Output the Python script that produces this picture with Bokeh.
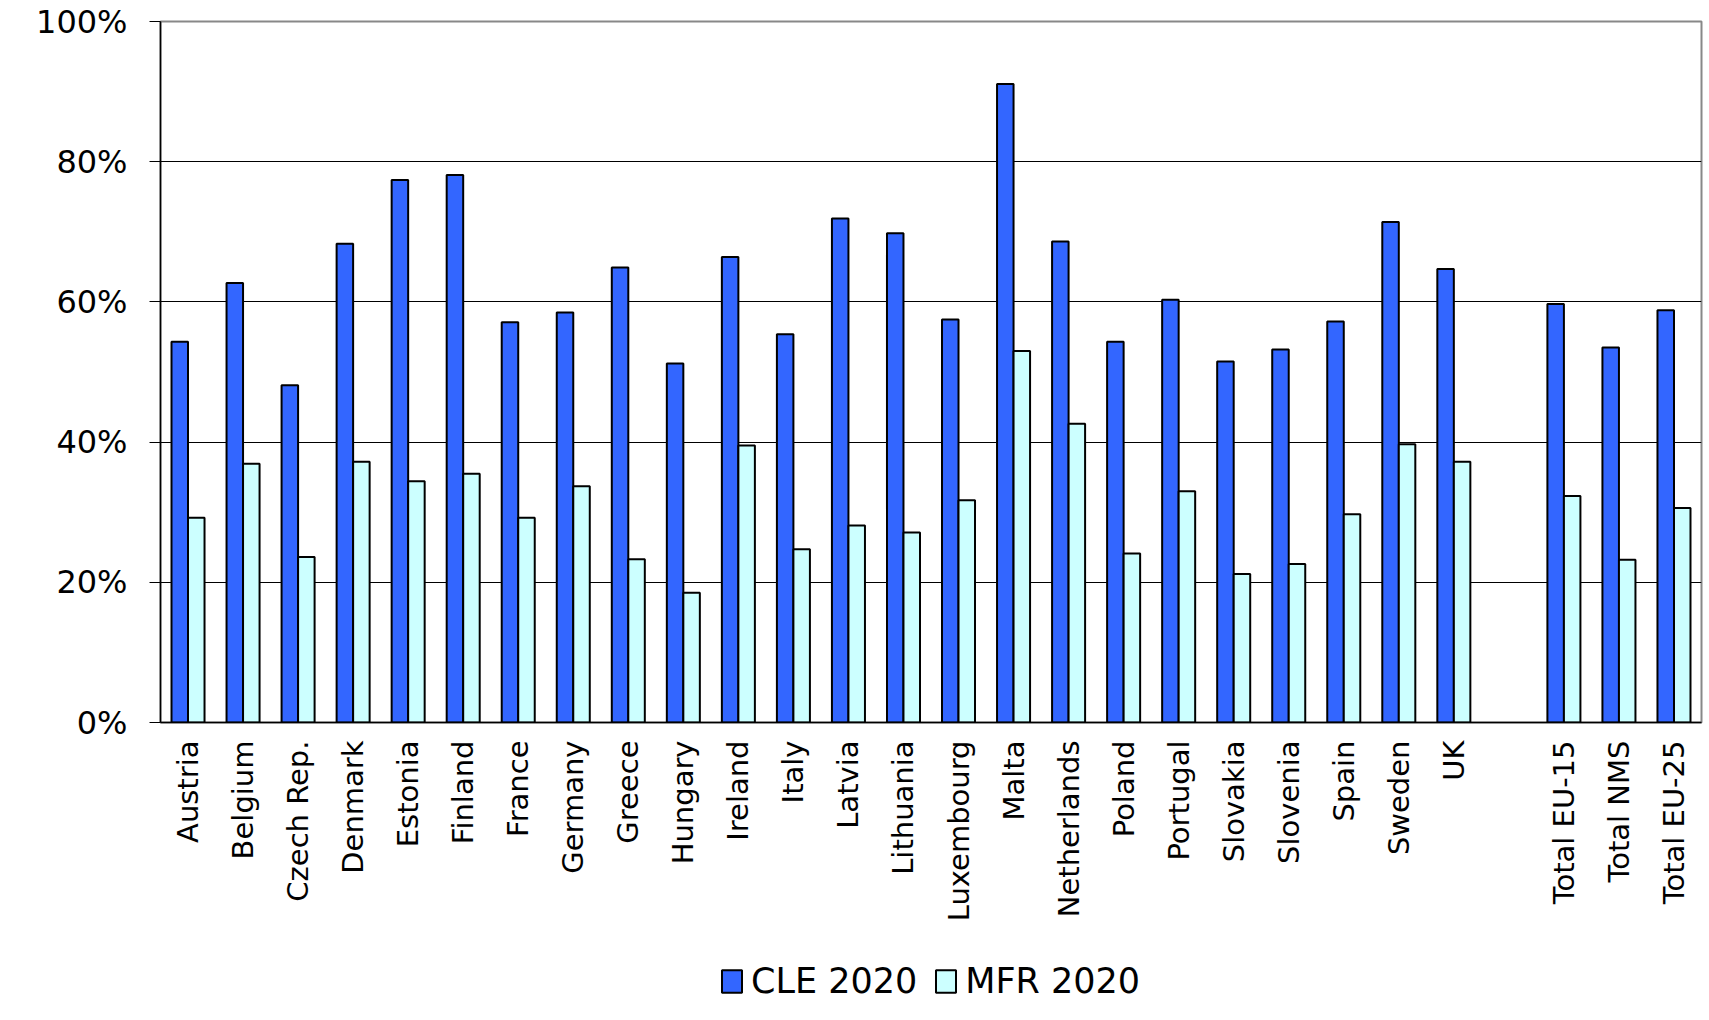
from math import pi
from bokeh.plotting import figure
from bokeh.layouts import column
from bokeh.models import ColumnDataSource, FactorRange, Legend, LegendItem, NumeralTickFormatter, FixedTicker
from bokeh.transform import dodge
from bokeh.embed import file_html
from bokeh.resources import INLINE

countries = ["Austria", "Belgium", "Czech Rep.", "Denmark", "Estonia", "Finland", "France",
             "Germany", "Greece", "Hungary", "Ireland", "Italy", "Latvia", "Lithuania",
             "Luxembourg", "Malta", "Netherlands", "Poland", "Portugal", "Slovakia",
             "Slovenia", "Spain", "Sweden", "UK", "Total EU-15", "Total NMS", "Total EU-25"]
cle_2020 = [54.3, 62.7, 48.1, 68.3, 77.4, 78.1, 57.1, 58.5, 64.9, 51.2, 66.4, 55.4, 71.9, 69.8,
            57.5, 91.1, 68.6, 54.3, 60.3, 51.5, 53.2, 57.2, 71.4, 64.7, 59.7, 53.5, 58.8]
mfr_2020 = [29.2, 36.9, 23.6, 37.2, 34.4, 35.5, 29.2, 33.7, 23.3, 18.5, 39.5, 24.7, 28.1, 27.1,
            31.7, 53.0, 42.6, 24.1, 33.0, 21.2, 22.6, 29.7, 39.7, 37.2, 32.3, 23.2, 30.6]
series_names = ["CLE 2020", "MFR 2020"]
y_ticks = [0, 20, 40, 60, 80, 100]

factors = countries[:24] + [" "] + countries[24:]

src = ColumnDataSource(dict(cat=countries,
                            cle=[v / 100 for v in cle_2020],
                            mfr=[v / 100 for v in mfr_2020]))

FONT = "DejaVu Sans"
C1, C2 = "#3366FF", "#CCFFFF"

p = figure(x_range=FactorRange(*factors, range_padding=0), y_range=(0, 1.0),
           frame_width=1541, frame_height=701, output_backend="svg", toolbar_location=None,
           min_border_left=160, min_border_top=21, min_border_right=8, min_border_bottom=225)

p.vbar(x=dodge("cat", -0.15, range=p.x_range), top="cle", width=0.3, source=src,
       fill_color=C1, line_color="black", line_width=2)
p.vbar(x=dodge("cat", 0.15, range=p.x_range), top="mfr", width=0.3, source=src,
       fill_color=C2, line_color="black", line_width=2)

p.outline_line_color = "#888888"
p.outline_line_width = 2
p.background_fill_color = "white"
p.border_fill_color = "white"

p.xgrid.grid_line_color = None
p.ygrid.grid_line_color = "black"
p.ygrid.grid_line_width = 1

p.yaxis.ticker = FixedTicker(ticks=[t / 100 for t in y_ticks])
p.yaxis.formatter = NumeralTickFormatter(format="0%")
p.yaxis.major_label_text_font = FONT
p.yaxis.major_label_text_font_size = "32px"
p.yaxis.major_label_text_color = "black"
p.yaxis.axis_line_color = "black"
p.yaxis.axis_line_width = 1.5
p.yaxis.major_tick_out = 11
p.yaxis.major_tick_in = 0
p.yaxis.major_tick_line_color = "black"
p.yaxis.minor_tick_line_color = None
p.yaxis.major_label_standoff = 22

p.xaxis.major_label_orientation = pi / 2
p.xaxis.major_label_text_font = FONT
p.xaxis.major_label_text_font_size = "29px"
p.xaxis.major_label_text_color = "black"
p.xaxis.axis_line_color = "black"
p.xaxis.axis_line_width = 1.5
p.xaxis.major_tick_line_color = None
p.xaxis.minor_tick_line_color = None
p.xaxis.major_tick_out = 0
p.xaxis.major_label_standoff = 18

# legend strip below the chart (swatch renderers carry NaN data, so they draw nothing)
nan = float("nan")
lg = figure(width=1709, height=60, x_range=(0, 1), y_range=(0, 1), output_backend="svg",
            toolbar_location=None, min_border=0)
lg.axis.visible = False
lg.grid.grid_line_color = None
lg.outline_line_color = None
l1 = lg.vbar(x=[nan], top=[nan], width=0.3, fill_color=C1, line_color="black", line_width=2)
l2 = lg.vbar(x=[nan], top=[nan], width=0.3, fill_color=C2, line_color="black", line_width=2)
legend = Legend(items=[LegendItem(label=series_names[0], renderers=[l1]),
                       LegendItem(label=series_names[1], renderers=[l2])],
                orientation="horizontal", location=(559, 6),
                label_text_font=FONT, label_text_font_size="35px", label_text_color="black",
                glyph_width=25, glyph_height=28, label_standoff=7, spacing=16,
                border_line_color=None, background_fill_alpha=0, padding=0, margin=0)
lg.add_layout(legend, "center")

layout = column(p, lg, spacing=0)
open("out.html", "w").write(file_html(layout, INLINE))
